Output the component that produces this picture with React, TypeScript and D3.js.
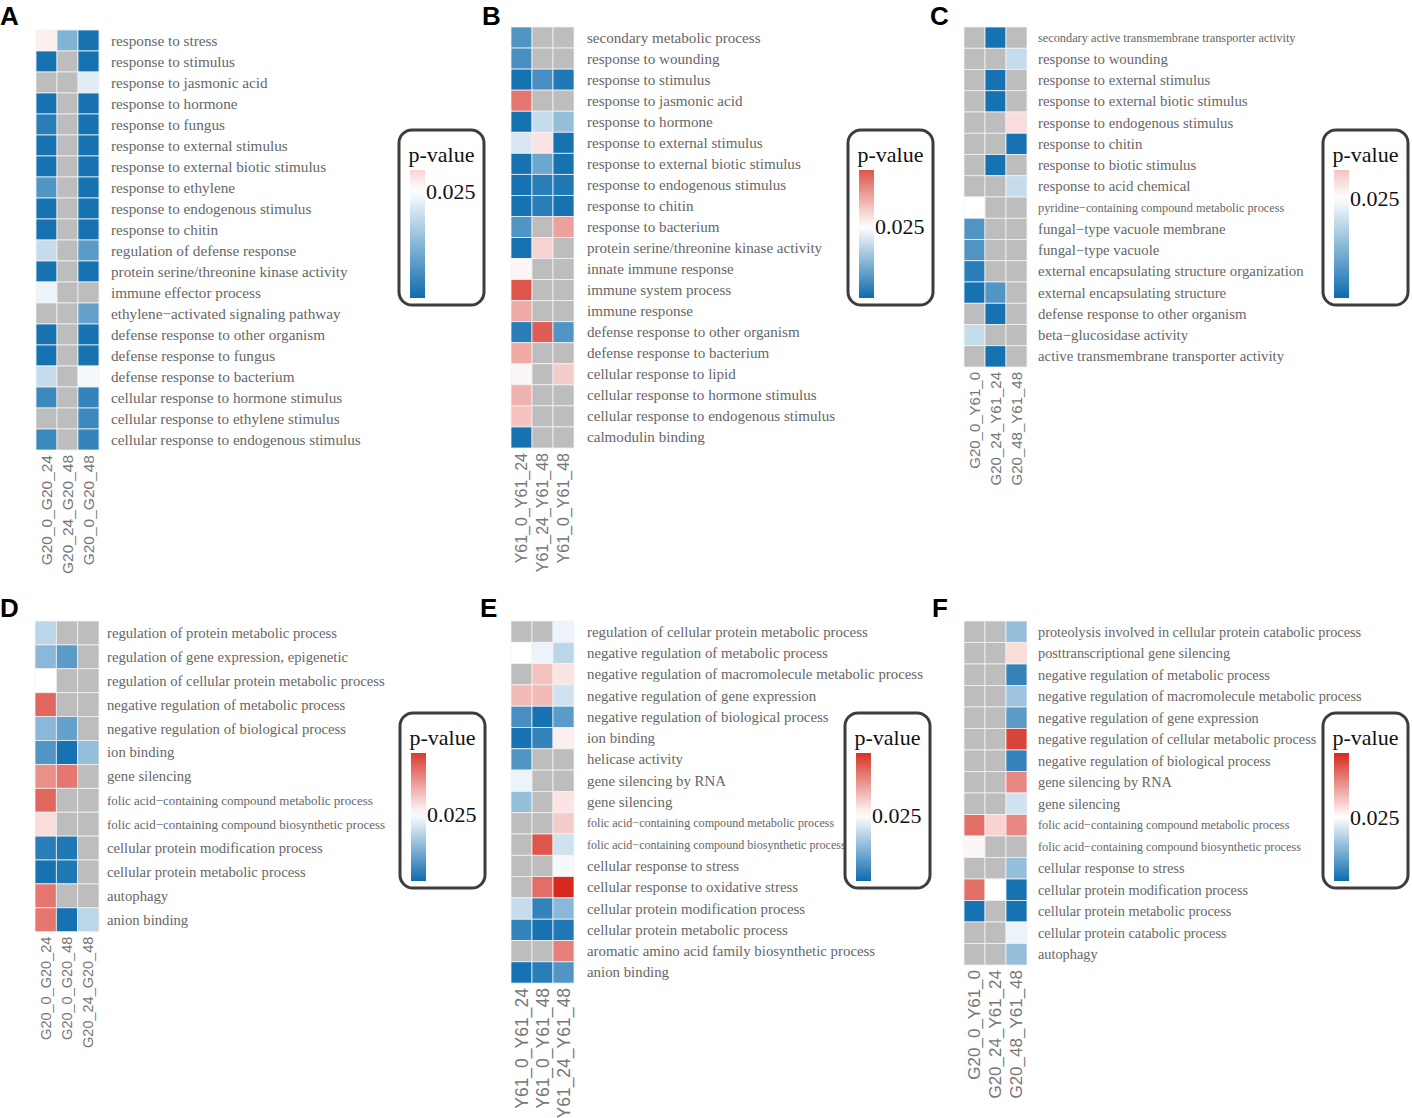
import React from "react";
import * as d3 from "d3";

// ---------------- DATA ----------------
const A_TERMS = [
  "response to stress",
  "response to stimulus",
  "response to jasmonic acid",
  "response to hormone",
  "response to fungus",
  "response to external stimulus",
  "response to external biotic stimulus",
  "response to ethylene",
  "response to endogenous stimulus",
  "response to chitin",
  "regulation of defense response",
  "protein serine/threonine kinase activity",
  "immune effector process",
  "ethylene−activated signaling pathway",
  "defense response to other organism",
  "defense response to fungus",
  "defense response to bacterium",
  "cellular response to hormone stimulus",
  "cellular response to ethylene stimulus",
  "cellular response to endogenous stimulus",
];
const A_COLS = ["G20_0_G20_24", "G20_24_G20_48", "G20_0_G20_48"];
const A_PVALS: (number | null)[][] = [
  [0.027, 0.012, 0.001],
  [0.001, null, 0.001],
  [null, null, 0.022],
  [0.001, null, 0.001],
  [0.003, null, 0.001],
  [0.001, null, 0.001],
  [0.001, null, 0.001],
  [0.007, null, 0.001],
  [0.001, null, 0.001],
  [0.001, null, 0.001],
  [0.019, null, 0.008],
  [0.001, null, 0.001],
  [0.023, null, null],
  [null, null, 0.009],
  [0.001, null, 0.001],
  [0.001, null, 0.001],
  [0.019, null, 0.024],
  [0.005, null, 0.004],
  [null, null, 0.005],
  [0.005, null, 0.004],
];
const A_PMAX = 0.03;

const B_TERMS = [
  "secondary metabolic process",
  "response to wounding",
  "response to stimulus",
  "response to jasmonic acid",
  "response to hormone",
  "response to external stimulus",
  "response to external biotic stimulus",
  "response to endogenous stimulus",
  "response to chitin",
  "response to bacterium",
  "protein serine/threonine kinase activity",
  "innate immune response",
  "immune system process",
  "immune response",
  "defense response to other organism",
  "defense response to bacterium",
  "cellular response to lipid",
  "cellular response to hormone stimulus",
  "cellular response to endogenous stimulus",
  "calmodulin binding",
];
const B_COLS = ["Y61_0_Y61_24", "Y61_24_Y61_48", "Y61_0_Y61_48"];
const B_PVALS: (number | null)[][] = [
  [0.007, null, null],
  [0.006, null, null],
  [0.001, 0.006, 0.002],
  [0.041, null, null],
  [0.001, 0.019, 0.014],
  [0.021, 0.028, 0.001],
  [0.001, 0.01, 0.001],
  [0.001, 0.003, 0.002],
  [0.001, 0.003, 0.001],
  [0.007, null, 0.036],
  [0.001, 0.03, null],
  [0.026, null, null],
  [0.045, null, null],
  [0.035, null, null],
  [0.003, 0.044, 0.007],
  [0.035, null, null],
  [0.026, null, 0.031],
  [0.034, null, null],
  [0.032, null, null],
  [0.001, null, null],
];
const B_PMAX = 0.045;

const C_TERMS = [
  "secondary active transmembrane transporter activity",
  "response to wounding",
  "response to external stimulus",
  "response to external biotic stimulus",
  "response to endogenous stimulus",
  "response to chitin",
  "response to biotic stimulus",
  "response to acid chemical",
  "pyridine−containing compound metabolic process",
  "fungal−type vacuole membrane",
  "fungal−type vacuole",
  "external encapsulating structure organization",
  "external encapsulating structure",
  "defense response to other organism",
  "beta−glucosidase activity",
  "active transmembrane transporter activity",
];
const C_COLS = ["G20_0_Y61_0", "G20_24_Y61_24", "G20_48_Y61_48"];
const C_PVALS: (number | null)[][] = [
  [null, 0.001, null],
  [null, null, 0.019],
  [null, 0.001, null],
  [null, 0.001, null],
  [null, null, 0.029],
  [null, null, 0.001],
  [null, 0.001, null],
  [null, null, 0.019],
  [0.025, null, null],
  [0.007, null, null],
  [0.007, null, null],
  [0.003, null, null],
  [0.001, 0.007, null],
  [null, 0.001, null],
  [0.019, null, null],
  [null, 0.001, null],
];
const C_PMAX = 0.032;

const D_TERMS = [
  "regulation of protein metabolic process",
  "regulation of gene expression, epigenetic",
  "regulation of cellular protein metabolic process",
  "negative regulation of metabolic process",
  "negative regulation of biological process",
  "ion binding",
  "gene silencing",
  "folic acid−containing compound metabolic process",
  "folic acid−containing compound biosynthetic process",
  "cellular protein modification process",
  "cellular protein metabolic process",
  "autophagy",
  "anion binding",
];
const D_COLS = ["G20_0_G20_24", "G20_0_G20_48", "G20_24_G20_48"];
const D_PVALS: (number | null)[][] = [
  [0.018, null, null],
  [0.013, 0.008, null],
  [0.025, null, null],
  [0.043, null, null],
  [0.013, 0.009, null],
  [0.007, 0.001, 0.014],
  [0.038, 0.041, null],
  [0.043, null, null],
  [0.029, null, null],
  [0.003, 0.002, null],
  [0.001, 0.002, null],
  [0.041, null, null],
  [0.041, 0.001, 0.018],
];
const D_PMAX = 0.048;

const E_TERMS = [
  "regulation of cellular protein metabolic process",
  "negative regulation of metabolic process",
  "negative regulation of macromolecule metabolic process",
  "negative regulation of gene expression",
  "negative regulation of biological process",
  "ion binding",
  "helicase activity",
  "gene silencing by RNA",
  "gene silencing",
  "folic acid−containing compound metabolic process",
  "folic acid−containing compound biosynthetic process",
  "cellular response to stress",
  "cellular response to oxidative stress",
  "cellular protein modification process",
  "cellular protein metabolic process",
  "aromatic amino acid family biosynthetic process",
  "anion binding",
];
const E_COLS = ["Y61_0_Y61_24", "Y61_0_Y61_48", "Y61_24_Y61_48"];
const E_PVALS: (number | null)[][] = [
  [null, null, 0.023],
  [0.025, 0.023, 0.018],
  [null, 0.032, 0.028],
  [0.033, 0.033, 0.02],
  [0.006, 0.001, 0.008],
  [0.001, 0.004, 0.027],
  [0.007, null, null],
  [0.023, null, null],
  [0.014, null, 0.028],
  [null, null, 0.031],
  [null, 0.045, 0.02],
  [null, null, 0.024],
  [null, 0.042, 0.05],
  [0.019, 0.004, 0.013],
  [0.004, 0.001, 0.002],
  [null, null, 0.04],
  [0.001, 0.003, 0.007],
];
const E_PMAX = 0.049;

const F_TERMS = [
  "proteolysis involved in cellular protein catabolic process",
  "posttranscriptional gene silencing",
  "negative regulation of metabolic process",
  "negative regulation of macromolecule metabolic process",
  "negative regulation of gene expression",
  "negative regulation of cellular metabolic process",
  "negative regulation of biological process",
  "gene silencing by RNA",
  "gene silencing",
  "folic acid−containing compound metabolic process",
  "folic acid−containing compound biosynthetic process",
  "cellular response to stress",
  "cellular protein modification process",
  "cellular protein metabolic process",
  "cellular protein catabolic process",
  "autophagy",
];
const F_COLS = ["G20_0_Y61_0", "G20_24_Y61_24", "G20_48_Y61_48"];
const F_PVALS: (number | null)[][] = [
  [null, null, 0.014],
  [null, null, 0.029],
  [null, null, 0.004],
  [null, null, 0.015],
  [null, null, 0.008],
  [null, null, 0.047],
  [null, null, 0.004],
  [null, null, 0.039],
  [null, null, 0.02],
  [0.042, 0.03, 0.039],
  [0.026, null, null],
  [null, null, 0.014],
  [0.042, 0.025, 0.001],
  [0.001, null, 0.001],
  [null, null, 0.023],
  [null, null, 0.014],
];
const F_PMAX = 0.05;

const LEGEND_TICK = 0.025;

// ---------------- STYLE / LAYOUT ----------------
const SMALL_LABELS = new Set([
  "secondary active transmembrane transporter activity",
  "pyridine−containing compound metabolic process",
  "folic acid−containing compound metabolic process",
  "folic acid−containing compound biosynthetic process",
]);

const NA_COLOR = "#bdbdbd";
const color = d3
  .scaleLinear<string>()
  .domain([0, 0.025, 0.05])
  .range(["#0d6cae", "#ffffff", "#d62a1f"])
  .interpolate(d3.interpolateRgb)
  .clamp(true);

type Layout = {
  letter: [number, number];
  x0: number;
  y0: number;
  w: number;
  cellH: number;
  labelX: number;
  legend: [number, number];
  colFont: number;
  font: number;
  small: number;
};

const PANELS = [
  { id: "A", terms: A_TERMS, cols: A_COLS, vals: A_PVALS, pmax: A_PMAX,
    L: { letter: [0, 25], x0: 36, y0: 30, w: 63, cellH: 21, labelX: 111, legend: [399, 130], colFont: 15.5, font: 15.2, small: 13 } as Layout },
  { id: "B", terms: B_TERMS, cols: B_COLS, vals: B_PVALS, pmax: B_PMAX,
    L: { letter: [482, 25], x0: 511, y0: 27, w: 63, cellH: 21.05, labelX: 587, legend: [848, 130], colFont: 16, font: 15.1, small: 13 } as Layout },
  { id: "C", terms: C_TERMS, cols: C_COLS, vals: C_PVALS, pmax: C_PMAX,
    L: { letter: [930, 25], x0: 964, y0: 27, w: 63, cellH: 21.25, labelX: 1038, legend: [1323, 130], colFont: 15, font: 14.8, small: 12.3 } as Layout },
  { id: "D", terms: D_TERMS, cols: D_COLS, vals: D_PVALS, pmax: D_PMAX,
    L: { letter: [0, 617], x0: 35, y0: 621, w: 64, cellH: 23.9, labelX: 107, legend: [400, 713], colFont: 14.5, font: 14.7, small: 13 } as Layout },
  { id: "E", terms: E_TERMS, cols: E_COLS, vals: E_PVALS, pmax: E_PMAX,
    L: { letter: [480, 617], x0: 511, y0: 621, w: 63, cellH: 21.3, labelX: 587, legend: [845, 713], colFont: 17.5, font: 14.85, small: 12.1 } as Layout },
  { id: "F", terms: F_TERMS, cols: F_COLS, vals: F_PVALS, pmax: F_PMAX,
    L: { letter: [932, 617], x0: 964, y0: 621, w: 63, cellH: 21.5, labelX: 1038, legend: [1323, 713], colFont: 17, font: 14.3, small: 12.3 } as Layout },
];

const SERIF = "'Liberation Serif', 'Times New Roman', serif";
const SANS = "'Liberation Sans', Arial, sans-serif";

function Panel({ id, terms, cols, vals, pmax, L }: any) {
  const n = terms.length;
  const x = d3.scaleBand<string>().domain(cols).range([L.x0, L.x0 + L.w]);
  const y = d3.scaleBand<number>().domain(d3.range(n)).range([L.y0, L.y0 + L.cellH * n]);
  const bottom = L.y0 + L.cellH * n;

  const [lx, ly] = L.legend;
  const barTop = ly + 40;
  const barBot = ly + 168;
  const ls = d3.scaleLinear().domain([0, pmax]).range([barBot, barTop]);
  const gid = `grad-${id}`;
  const stops = d3.range(0, 21).map((i) => i / 20);

  return (
    <g>
      <text x={L.letter[0]} y={L.letter[1]} fontFamily={SANS} fontWeight="bold" fontSize={26} fill="#000">
        {id}
      </text>
      {terms.map((t: string, r: number) =>
        cols.map((c: string, ci: number) => {
          const v = vals[r][ci];
          return (
            <rect
              key={`${r}-${ci}`}
              x={x(c)!}
              y={y(r)!}
              width={x.bandwidth()}
              height={y.bandwidth()}
              fill={v == null ? NA_COLOR : color(v)}
              stroke="#f2f2f2"
              strokeWidth={0.8}
            />
          );
        })
      )}
      {terms.map((t: string, r: number) => (
        <text
          key={`t-${r}`}
          x={L.labelX}
          y={y(r)! + y.bandwidth() / 2}
          dominantBaseline="central"
          fontFamily={SERIF}
          fontSize={SMALL_LABELS.has(t) ? L.small : L.font}
          fill="#666"
        >
          {t}
        </text>
      ))}
      {cols.map((c: string) => {
        const cx = x(c)! + x.bandwidth() / 2;
        const cy = bottom + 5;
        return (
          <text
            key={`c-${c}`}
            transform={`translate(${cx},${cy}) rotate(-90)`}
            textAnchor="end"
            dominantBaseline="central"
            fontFamily={SANS}
            fontSize={L.colFont}
            fill="#777"
          >
            {c}
          </text>
        );
      })}
      <defs>
        <linearGradient id={gid} x1="0" y1="0" x2="0" y2="1">
          {stops.map((s) => (
            <stop key={s} offset={s} stopColor={color(pmax * (1 - s))} />
          ))}
        </linearGradient>
      </defs>
      <rect x={lx} y={ly} width={85} height={175} rx={13} ry={13} fill="#fff" stroke="#3d3d3d" strokeWidth={3} />
      <text x={lx + 42.5} y={ly + 32} textAnchor="middle" fontFamily={SERIF} fontSize={22} fill="#111">
        p-value
      </text>
      <rect x={lx + 11} y={barTop} width={15} height={barBot - barTop} fill={`url(#${gid})`} />
      <text x={lx + 27} y={ls(LEGEND_TICK)} dominantBaseline="central" fontFamily={SERIF} fontSize={22} fill="#111">
        0.025
      </text>
    </g>
  );
}

export default function App() {
  return (
    <svg
      width={1412}
      height={1118}
      style={{ position: "absolute", left: 0, top: 0, background: "#fff" }}
    >
      <rect width={1412} height={1118} fill="#fff" />
      {PANELS.map((p) => (
        <Panel key={p.id} {...p} />
      ))}
    </svg>
  );
}
